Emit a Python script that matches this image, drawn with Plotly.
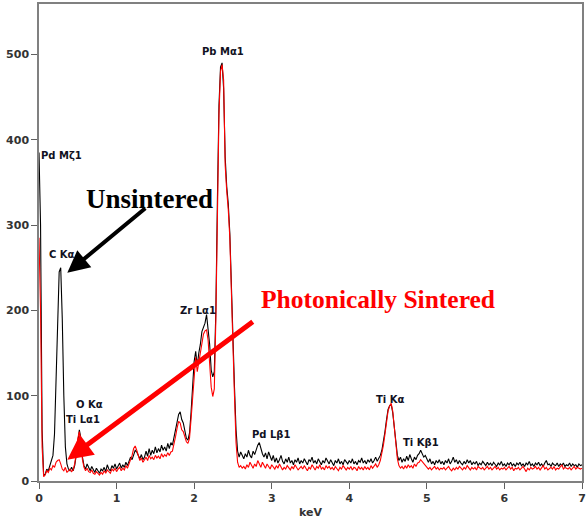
import numpy as np
import plotly.graph_objects as go

# EDS spectra, channel step 0.02 keV starting at 0 keV (counts)
step_kev = 0.02
unsintered = [
    385, 300, 60, 6, 8, 14, 12, 18, 22, 30,
    55, 120, 200, 245, 250, 190, 100, 40, 20, 14,
    12, 16, 12, 18, 30, 48, 60, 50, 28, 18,
    14, 20, 15, 12, 17, 13, 10, 15, 11, 9,
    14, 12, 16, 11, 19, 14, 12, 18, 15, 20,
    14, 17, 21, 15, 19, 16, 22, 18, 24, 28,
    25, 30, 36, 34, 30, 26, 31, 25, 28, 35,
    29, 38, 30, 36, 32, 40, 33, 38, 34, 42,
    36, 40, 35, 44, 38, 45, 42, 50, 62, 70,
    78, 81, 72, 68, 58, 50, 48, 56, 80, 110,
    140, 152, 135, 150, 160, 175, 180, 185, 195, 180,
    160, 130, 122, 128, 200, 330, 440, 485, 490, 460,
    380, 345, 325, 290, 215, 170, 110, 60, 35, 28,
    34, 30, 26, 32, 28, 36, 30, 27, 35, 31,
    38, 42, 45, 38, 32, 28, 33, 26, 34, 29,
    24, 30, 22, 27, 21, 25, 30, 23, 20, 26,
    22, 28, 21, 24, 19, 25, 22, 27, 20, 24,
    21, 26, 22, 19, 25, 23, 28, 21, 24, 20,
    26, 22, 19, 24, 21, 27, 23, 20, 25, 22,
    18, 24, 21, 26, 20, 23, 19, 25, 22, 20,
    24, 21, 26, 20, 23, 19, 24, 22, 27, 21,
    24, 20, 25, 22, 26, 21, 24, 28, 23, 26,
    30, 36, 45, 58, 72, 84, 88, 90, 80, 62,
    42, 30, 24, 28, 22, 26, 23, 29, 24, 31,
    26, 22, 28, 25, 30, 32, 36, 31, 28, 30,
    25, 22, 26, 20, 23, 19, 24, 21, 25, 20,
    23, 19, 24, 21, 26, 20, 23, 28, 22, 25,
    20, 24, 21, 19, 23, 20, 25, 21, 24, 19,
    22, 20, 23, 18, 21, 19, 23, 20, 18, 22,
    19, 21, 18, 22, 20, 17, 21, 19, 23, 18,
    20, 17, 21, 19, 22, 18, 20, 17, 21, 19,
    22, 18, 20, 17, 21, 19, 23, 18, 20, 17,
    21, 19, 22, 18, 20, 17, 21, 24, 19, 20,
    17, 21, 19, 18, 21, 17, 20, 18, 21, 17,
    19, 18, 21, 17, 20, 18, 19, 16, 20, 18,
    19,
]
sintered = [
    285, 200, 40, 5, 7, 12, 10, 15, 13, 18,
    16, 22, 24, 25, 20, 14, 12, 16, 10, 12,
    14, 11, 13, 20, 32, 50, 58, 45, 25, 16,
    12, 15, 11, 10, 13, 9, 8, 11, 9, 7,
    10, 8, 12, 9, 13, 11, 9, 14, 12, 15,
    11, 14, 16, 12, 15, 13, 18, 15, 20, 24,
    30, 38, 41, 36, 30, 24, 27, 22, 25, 28,
    24, 30, 26, 28, 25, 30, 27, 29, 26, 32,
    28, 31, 29, 33, 30, 34, 35, 42, 52, 62,
    70, 68, 60, 58, 52, 46, 44, 50, 72, 100,
    130, 145, 128, 140, 150, 165, 172, 176, 177, 165,
    140, 110, 99, 108, 190, 320, 430, 480, 488, 470,
    370, 340, 318, 285, 210, 160, 100, 45, 22, 16,
    18, 15, 17, 14, 19, 16, 22, 18, 15, 20,
    17, 24, 20, 16, 22, 18, 15, 20, 17, 14,
    19, 16, 14, 18, 15, 20, 17, 13, 16, 14,
    18, 15, 13, 17, 14, 19, 16, 13, 15, 17,
    14, 18, 15, 12, 16, 14, 19, 15, 13, 17,
    15, 19, 14, 16, 13, 18, 15, 17, 14, 16,
    13, 17, 15, 12, 16, 14, 18, 15, 13, 16,
    14, 17, 13, 16, 15, 12, 17, 14, 16, 13,
    17, 14, 16, 13, 18, 15, 17, 20, 16, 19,
    24, 32, 42, 55, 70, 82, 88, 91, 82, 62,
    40, 26, 18, 15, 17, 14, 18, 15, 19, 16,
    18, 15, 20, 17, 21, 22, 25, 23, 20, 18,
    17, 14, 16, 13, 15, 17, 14, 16, 13, 15,
    14, 16, 13, 15, 17, 14, 12, 15, 13, 16,
    14, 17, 15, 13, 16, 14, 18, 15, 13, 16,
    14, 16, 13, 17, 15, 14, 16, 13, 15, 17,
    14, 16, 13, 15, 17, 14, 16, 13, 15, 14,
    16, 13, 15, 17, 14, 16, 12, 15, 14, 16,
    13, 15, 17, 14, 11, 15, 13, 16, 14, 15,
    17, 14, 16, 13, 15, 18, 14, 16, 13, 15,
    16, 14, 17, 13, 15, 14, 16, 19, 14, 16,
    15, 14, 16, 13, 15, 17, 14, 16, 15, 14,
    15,
]

peak_labels = ["Pd Mζ1", "C Kα", "O Kα", "Ti Lα1", "Zr Lα1", "Pb Mα1", "Pd Lβ1", "Ti Kα", "Ti Kβ1"]
peak_x = [0.005, 0.30, 0.647, 0.57, 2.044, 2.377, 2.99, 4.53, 4.93]
peak_y = [381, 265, 90, 72, 200, 503, 54, 96, 45]
peak_anchor = ["left", "center", "center", "center", "center", "center", "center", "center", "center"]

x_u = np.arange(len(unsintered)) * step_kev
x_s = np.arange(len(sintered)) * step_kev

fig = go.Figure()
fig.add_trace(go.Scatter(x=x_u, y=unsintered, mode="lines",
                         line=dict(color="#000000", width=1.1), name="Unsintered"))
fig.add_trace(go.Scatter(x=x_s, y=sintered, mode="lines",
                         line=dict(color="#ff0000", width=1.1), name="Photonically Sintered"))

for t, px_, py_, an in zip(peak_labels, peak_x, peak_y, peak_anchor):
    fig.add_annotation(x=px_, y=py_, text=t, showarrow=False, xanchor=an, yanchor="middle",
                       font=dict(family="DejaVu Sans", size=10, color="#111122", weight="bold"))

# Big labels and arrows
fig.add_annotation(x=1.43, y=330, text="Unsintered", showarrow=False,
                   font=dict(family="Liberation Serif", size=27, color="#000000", weight="bold"))
fig.add_annotation(x=4.376, y=213, text="Photonically Sintered", showarrow=False,
                   font=dict(family="Liberation Serif", size=25.5, color="#ff0000", weight="bold"))

fig.add_annotation(x=0.365, y=244, ax=1.39, ay=321, axref="x", ayref="y", xref="x", yref="y",
                   text="", showarrow=True, arrowhead=2, arrowsize=1.1, arrowwidth=4,
                   arrowcolor="#000000", standoff=0)
fig.add_annotation(x=0.365, y=25, ax=2.775, ay=188, axref="x", ayref="y", xref="x", yref="y",
                   text="", showarrow=True, arrowhead=2, arrowsize=1.0, arrowwidth=5,
                   arrowcolor="#ff0000", standoff=0)

fig.update_layout(
    width=586, height=519,
    margin=dict(l=39, r=0, t=4, b=37),
    paper_bgcolor="white", plot_bgcolor="white",
    showlegend=False,
)
fig.update_xaxes(range=[0, 7], tickvals=[0, 1, 2, 3, 4, 5, 6, 7],
                 showline=True, linecolor="#808080", linewidth=1.5, mirror=True,
                 ticks="outside", ticklen=6, tickcolor="#606060", tickwidth=1.2,
                 showgrid=False, zeroline=False, ticklabeloverflow="allow",
                 tickfont=dict(family="DejaVu Sans", size=11, color="#333333", weight="bold"),
                 title=dict(text="keV", standoff=6,
                            font=dict(family="DejaVu Sans", size=11, color="#333333", weight="bold")))
fig.update_yaxes(range=[0, 559], tickvals=[0, 100, 200, 300, 400, 500],
                 showline=True, linecolor="#808080", linewidth=1.5, mirror=True,
                 ticks="outside", ticklen=6, tickcolor="#606060", tickwidth=1.2,
                 showgrid=False, zeroline=False,
                 tickfont=dict(family="DejaVu Sans", size=11, color="#333333", weight="bold"))

fig.write_html("out.html")
